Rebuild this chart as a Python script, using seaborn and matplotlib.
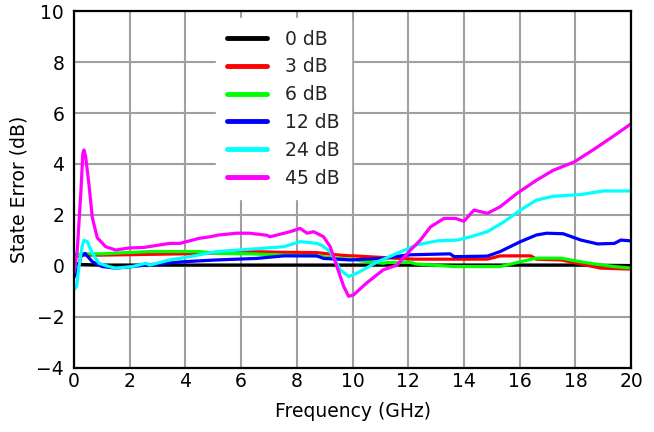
import numpy as np
import pandas as pd
import matplotlib
matplotlib.use("Agg")
import matplotlib.pyplot as plt
import seaborn as sns

# ---- data ----
f_0db = [0.05, 0.3, 1.0, 3.0, 6.0, 9.0, 12.0, 15.0, 18.0, 20.0]
e_0db = [0.10, 0.05, 0.03, 0.03, 0.03, 0.03, 0.03, 0.03, 0.03, 0.01]

f_3db = [0, 0.3, 1, 2.7, 4.5, 6.3, 7.5, 8.7, 9.44, 9.92, 10.04, 11.5, 12.2,
         14.84, 15.3, 16.4, 16.6, 17.5, 18.2, 18.9, 20.0]
e_3db = [0.35, 0.42, 0.42, 0.45, 0.48, 0.56, 0.53, 0.52, 0.43, 0.39, 0.39,
         0.30, 0.26, 0.26, 0.39, 0.39, 0.26, 0.23, 0.07, -0.09, -0.13]

f_6db = [0, 0.3, 1, 2.7, 4.5, 5.13, 6.32, 7.53, 8.72, 9.44, 10.04, 10.3, 11.1,
         11.25, 12.08, 12.3, 13.65, 15.3, 16.03, 16.6, 17.5, 17.96, 18.7, 19.4, 20.0]
e_6db = [0.40, 0.47, 0.47, 0.56, 0.56, 0.49, 0.47, 0.42, 0.39, 0.29, 0.26, 0.19,
         0.10, 0.13, 0.13, 0.07, -0.03, -0.03, 0.16, 0.30, 0.30, 0.20, 0.07, -0.03, -0.09]

f_12db = [0, 0.12, 0.25, 0.4, 0.66, 1.02, 1.5, 2.1, 2.58, 3.93, 5.13, 6.56, 7.53,
          8.12, 8.72, 8.96, 9.92, 11.1, 12.0, 13.5, 13.65, 14.84, 15.3, 16.03,
          16.6, 16.97, 17.56, 18.2, 18.8, 19.4, 19.63, 20.0]
e_12db = [-0.45, -0.20, 0.36, 0.49, 0.16, -0.03, -0.09, -0.03, 0.03, 0.16, 0.23,
          0.29, 0.39, 0.39, 0.39, 0.29, 0.23, 0.29, 0.43, 0.47, 0.36, 0.38, 0.56,
          0.95, 1.21, 1.28, 1.26, 1.01, 0.86, 0.88, 1.01, 0.98]

f_24db = [0, 0.1, 0.18, 0.3, 0.36, 0.48, 0.66, 0.9, 1.26, 1.5, 2.1, 2.58, 2.72,
          3.44, 4.16, 5.13, 6.32, 7.53, 8.12, 8.48, 8.72, 8.9, 9.2, 9.56, 9.86,
          10.16, 10.9, 11.6, 12.3, 13.04, 13.76, 14.24, 14.84, 15.44, 16.03,
          16.6, 17.2, 18.2, 19.0, 20.0]
e_24db = [-0.95, -0.80, -0.05, 0.80, 1.00, 0.95, 0.50, 0.10, -0.03, -0.09, -0.03,
          0.10, 0.03, 0.23, 0.36, 0.56, 0.65, 0.75, 0.95, 0.91, 0.88, 0.80, 0.56,
          -0.16, -0.42, -0.29, 0.16, 0.49, 0.82, 0.98, 1.01, 1.14, 1.34, 1.73,
          2.19, 2.58, 2.73, 2.80, 2.94, 2.94]

f_45db = [0.0, 0.12, 0.25, 0.32, 0.36, 0.42, 0.54, 0.66, 0.84, 1.14, 1.5, 1.98,
          2.5, 3.08, 3.44, 3.8, 4.5, 4.88, 5.2, 5.84, 6.3, 6.92, 7.04, 7.76,
          8.12, 8.37, 8.6, 8.84, 8.96, 9.2, 9.44, 9.68, 9.86, 10.04, 10.5, 11.1,
          11.6, 12.08, 12.43, 12.8, 13.28, 13.7, 14.0, 14.36, 14.84, 15.3, 15.9,
          16.6, 17.2, 17.96, 18.7, 19.4, 20.0]
e_45db = [-0.30, 0.60, 2.90, 4.40, 4.55, 4.30, 3.20, 1.90, 1.10, 0.75, 0.62, 0.70,
          0.72, 0.82, 0.88, 0.88, 1.08, 1.14, 1.21, 1.28, 1.28, 1.20, 1.14, 1.34,
          1.47, 1.28, 1.34, 1.21, 1.14, 0.75, -0.03, -0.80, -1.20, -1.14, -0.68,
          -0.16, 0.03, 0.62, 1.00, 1.53, 1.86, 1.86, 1.75, 2.19, 2.06, 2.32, 2.84,
          3.36, 3.75, 4.08, 4.60, 5.12, 5.58]

labels = ["0 dB", "3 dB", "6 dB", "12 dB", "24 dB", "45 dB"]
colors = ["#000000", "#FF0000", "#00FF00", "#0000FF", "#00FFFF", "#FF00FF"]
series = [(f_0db, e_0db), (f_3db, e_3db), (f_6db, e_6db),
          (f_12db, e_12db), (f_24db, e_24db), (f_45db, e_45db)]

sns.set_theme(style="white")
plt.rcParams["font.family"] = ["DejaVu Sans"]

fig = plt.figure(figsize=(6.54, 4.32), dpi=100)
ax = fig.add_axes([0.113, 0.149, 0.852, 0.825])

for (fx, ey), lab, col in zip(series, labels, colors):
    df = pd.DataFrame({"Frequency (GHz)": fx, "State Error (dB)": ey})
    sns.lineplot(data=df, x="Frequency (GHz)", y="State Error (dB)",
                 color=col, label=lab, linewidth=2.3, ax=ax, estimator=None)

ax.set_xlim(0, 20)
ax.set_ylim(-4, 10)
ax.set_xticks(np.arange(0, 21, 2))
ax.set_yticks(np.arange(-4, 11, 2))
ax.grid(True, color="#A0A0A0", linewidth=1.5)
ax.set_axisbelow(True)
for sp in ax.spines.values():
    sp.set_color("black")
    sp.set_linewidth(1.6)
ax.tick_params(axis="both", length=0, labelsize=13.5, colors="black")
ax.tick_params(axis="y", pad=7)
ax.tick_params(axis="x", pad=3)
ax.set_xlabel("Frequency (GHz)", fontsize=13.5, color="black", labelpad=8)
ax.set_ylabel("State Error (dB)", fontsize=13.5, color="black", labelpad=6)

leg = ax.legend(loc="upper left", bbox_to_anchor=(0.255, 0.98), borderaxespad=0,
                fontsize=13.5, frameon=True, fancybox=False, framealpha=1,
                facecolor="white", edgecolor="white", handlelength=2.1,
                handletextpad=1.0, labelspacing=0.47, borderpad=0.6)
for line in leg.get_lines():
    line.set_linewidth(3.5)

fig.savefig("out.png", dpi=100)
